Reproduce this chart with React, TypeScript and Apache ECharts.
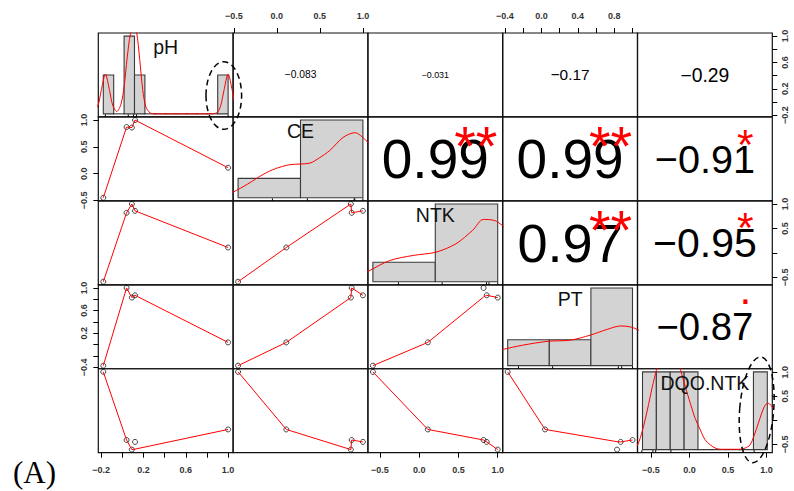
import React, { useEffect, useRef } from 'react';
import * as echarts from 'echarts';

// ---------- data ----------
const varNames = ['pH', 'CE', 'NTK', 'PT', 'DQO.NTK'];

// five observations (A..E) per variable
const pH = [-0.18, 0.04, 0.09, 0.12, 1.0];
const CE = [-0.45, 0.87, 0.86, 1.0, 0.11];
const NTK = [-0.59, 0.82, 1.0, 0.86, 0.11];
const PT = [-0.37, 1.0, 0.83, 0.87, 0.04];
const DQO_NTK = [1.01, -0.41, -0.61, -0.45, -0.19];

const fitCE_pH = [-0.45, 0.87, 0.86, 1.0, 0.11];
const fitNTK_pH = [-0.59, 0.82, 1.0, 0.86, 0.11];
const fitNTK_CE = [-0.59, 0.82, 1.0, 0.86, 0.11];
const fitPT_pH = [-0.37, 1.0, 0.83, 0.87, 0.04];
const fitPT_CE = [-0.37, 1.0, 0.83, 0.87, 0.04];
const fitPT_NTK = [-0.37, 0.84, 0.83, 0.87, 0.04];
const fitDQO_pH = [1.01, -0.41, -0.61, -0.6, -0.19];
const fitDQO_CE = [1.01, -0.41, -0.61, -0.45, -0.19];
const fitDQO_NTK = [1.01, -0.41, -0.61, -0.45, -0.19];
const fitDQO_PT = [1.01, -0.41, -0.445, -0.45, -0.19];

// histograms on the diagonal
const binStart = [-0.2, -1, -1, -0.5, -0.6];
const binWidth = [0.1, 1, 1, 0.5, 0.2];
const countsPH = [1, 0, 2, 1, 0, 0, 0, 0, 0, 0, 0, 1];
const countsCE = [1, 4];
const countsNTK = [1, 4];
const countsPT = [1, 1, 3];
const countsDQO = [1, 1, 1, 1, 0, 0, 0, 0, 1];

// density curves (x, density)
const densPH = [[-0.3, 0.1], [-0.25, 0.45], [-0.22, 1.2], [-0.18, 2.05], [-0.14, 1.2], [-0.11, 0.45], [-0.07, 0.12], [-0.03, 0.5], [0.0, 1.4], [0.03, 2.9], [0.06, 4.1], [0.09, 4.5], [0.12, 4.2], [0.15, 2.8], [0.18, 1.2], [0.21, 0.35], [0.25, 0.05], [0.3, 0.0], [0.85, 0.0], [0.9, 0.1], [0.93, 0.45], [0.96, 1.2], [1.0, 2.05], [1.04, 1.2], [1.07, 0.45], [1.1, 0.15]];
const densCE = [[-1.2, 0.03], [-1.08, 0.058], [-0.85, 0.14], [-0.6, 0.24], [-0.4, 0.3], [-0.17, 0.34], [0.15, 0.357], [0.3, 0.41], [0.47, 0.487], [0.68, 0.62], [0.87, 0.67], [1.05, 0.59], [1.2, 0.48]];
const densNTK = [[-1.2, 0.06], [-1.08, 0.105], [-0.73, 0.218], [-0.36, 0.27], [0.01, 0.304], [0.33, 0.39], [0.6, 0.53], [0.77, 0.641], [0.95, 0.63], [1.07, 0.58], [1.2, 0.5]];
const densPT = [[-0.65, 0.22], [-0.56, 0.25], [-0.32, 0.316], [-0.01, 0.377], [0.25, 0.393], [0.49, 0.47], [0.7, 0.562], [0.86, 0.613], [0.98, 0.597], [1.06, 0.557], [1.15, 0.5]];
const densDQO = [[-0.72, 0.02], [-0.67, 0.059], [-0.6, 0.25], [-0.53, 0.509], [-0.46, 0.8], [-0.4, 1.02], [-0.3, 1.35], [-0.22, 1.42], [-0.14, 1.3], [-0.05, 1.02], [0.02, 0.8], [0.09, 0.595], [0.16, 0.4], [0.235, 0.252], [0.3, 0.13], [0.38, 0.059], [0.45, 0.02], [0.52, 0.004], [0.81, 0.004], [0.88, 0.02], [0.95, 0.059], [1.01, 0.18], [1.07, 0.338], [1.12, 0.47], [1.17, 0.573], [1.215, 0.595], [1.28, 0.53], [1.33, 0.4]];

// correlations (upper panels) and significance stars
const corPH = [-0.083, -0.031, -0.17, -0.29];
const corCE = [0.99, 0.99, -0.91];
const corNTK = [0.97, -0.95];
const corPT = [-0.87];
const sigPH = ['', '', '', ''];
const sigCE = ['**', '**', '*'];
const sigNTK = ['**', '*'];
const sigPT = ['.'];

// axis ticks and labels
const ticksPH = [-0.2, 0, 0.2, 0.4, 0.6, 0.8, 1.0];
const ticksCE = [-0.5, 0, 0.5, 1.0];
const ticksNTK = [-0.5, 0, 0.5, 1.0];
const ticksPT = [-0.4, -0.2, 0, 0.2, 0.4, 0.6, 0.8, 1.0];
const ticksDQO = [-0.5, 0, 0.5, 1.0];
const labPHBottom = [-0.2, 0.2, 0.6, 1.0];
const labPHRight = [-0.2, 0.2, 0.6, 1.0];
const labCETop = [-0.5, 0, 0.5, 1.0];
const labCELeft = [-0.5, 0, 0.5, 1.0];
const labNTKBottom = [-0.5, 0, 0.5, 1.0];
const labNTKRight = [-0.5, 0.5, 1.0];
const labPTTop = [-0.4, 0, 0.4, 0.8];
const labPTLeft = [-0.4, 0.2, 0.6, 1.0];
const labDQOBottom = [-0.5, 0, 0.5, 1.0];
const labDQORight = [-0.5, 0.5, 1.0];

// ---------- layout ----------
const FONT = '"Liberation Sans", Arial, Helvetica, sans-serif';
const panelLeft = 98.3;
const panelTop = 33;
const cellW = 134.8;
const cellH = 83.94;
const L = (c: number) => panelLeft + c * cellW;
const T = (r: number) => panelTop + r * cellH;

const vals = [pH, CE, NTK, PT, DQO_NTK];
const counts = [countsPH, countsCE, countsNTK, countsPT, countsDQO];
const dens = [densPH, densCE, densNTK, densPT, densDQO];
const ticks = [ticksPH, ticksCE, ticksNTK, ticksPT, ticksDQO];
const bottomLabels: (number[] | null)[] = [labPHBottom, null, labNTKBottom, null, labDQOBottom];
const topLabels: (number[] | null)[] = [null, labCETop, null, labPTTop, null];
const leftLabels: (number[] | null)[] = [null, labCELeft, null, labPTLeft, null];
const rightLabels: (number[] | null)[] = [labPHRight, null, labNTKRight, null, labDQORight];
const fits: Record<string, number[]> = {
  '1-0': fitCE_pH, '2-0': fitNTK_pH, '2-1': fitNTK_CE, '3-0': fitPT_pH, '3-1': fitPT_CE,
  '3-2': fitPT_NTK, '4-0': fitDQO_pH, '4-1': fitDQO_CE, '4-2': fitDQO_NTK, '4-3': fitDQO_PT,
};
const corRows = [corPH, corCE, corNTK, corPT];
const sigRows = [sigPH, sigCE, sigNTK, sigPT];

function lim(a: number[]) {
  const mn = Math.min(...a), mx = Math.max(...a), d = mx - mn;
  return [mn - 0.04 * d, mx + 0.04 * d];
}
const minus = (v: number) => (v < 0 ? '\u2212' : '');
const fmtTick = (v: number) => minus(v) + Math.abs(v).toFixed(1);
const fmtCor = (r: number) => minus(r) + (Math.abs(r) < 0.1 ? Math.abs(r).toFixed(3) : Math.abs(r).toFixed(2));

let measureCtx: CanvasRenderingContext2D | null = null;
function emWidth(txt: string) {
  if (!measureCtx) measureCtx = document.createElement('canvas').getContext('2d');
  measureCtx!.font = `100px ${FONT}`;
  return measureCtx!.measureText(txt).width / 100;
}

const labelMargin: Record<string, number> = { bottom: 13, top: 13, left: 10, right: 8 };

function mkAxis(kind: 'x' | 'y', gridIndex: number, min: number, max: number, position: string, tk: number[] | null, labels: number[] | null | undefined) {
  const ax: any = {
    type: 'value', gridIndex, min, max, position, splitLine: { show: false },
    axisLine: { show: false, onZero: false },
  };
  if (!tk || !labels) {
    ax.show = false;
    return ax;
  }
  ax.show = true;
  ax.axisTick = { show: true, length: 5, inside: false, customValues: tk, lineStyle: { color: '#000', width: 1 } };
  ax.axisLabel = {
    show: true, customValues: labels, formatter: fmtTick, fontSize: 9, fontWeight: 'bold', color: '#333',
    fontFamily: FONT, margin: labelMargin[position], rotate: kind === 'y' ? 90 : 0,
  };
  return ax;
}

function buildOption() {
  const grids: any[] = [];
  const xAxes: any[] = [];
  const yAxes: any[] = [];
  const series: any[] = [];
  const graphics: any[] = [];
  const n = 5;

  for (let r = 0; r < n; r++) {
    for (let c = 0; c < n; c++) {
      const g = grids.length;
      grids.push({
        left: L(c), top: T(r), width: cellW, height: cellH, show: true,
        borderColor: '#111', borderWidth: 1.2, backgroundColor: 'transparent',
        containLabel: false, outerBoundsMode: 'none',
      });
      const xd = r === 0 && topLabels[c] ? { side: 'top', labels: topLabels[c] } : r === n - 1 && bottomLabels[c] ? { side: 'bottom', labels: bottomLabels[c] } : null;
      const yd = c === 0 && leftLabels[r] ? { side: 'left', labels: leftLabels[r] } : c === n - 1 && rightLabels[r] ? { side: 'right', labels: rightLabels[r] } : null;
      const [xlo, xhi] = lim(vals[c]);
      const [ylo, yhi] = lim(vals[r]);

      if (r === c) {
        const k = r;
        const w = binWidth[k];
        const st = binStart[k];
        const cn = counts[k];
        const nb = cn.length;
        const span = nb * w;
        const hx0 = st - 0.04 * span;
        const hx1 = st + span + 0.04 * span;
        const nObs = vals[k].length;
        const heights = cn.map((v) => v / (nObs * w));
        const maxH = Math.max(...heights);
        const hy0 = -0.04 * maxH;
        const hy1 = 1.04 * maxH;
        const hxi = xAxes.length;
        xAxes.push(mkAxis('x', g, hx0, hx1, 'top', null, null));
        const hyi = yAxes.length;
        yAxes.push(mkAxis('y', g, hy0, hy1, 'left', null, null));
        xAxes.push(mkAxis('x', g, xlo, xhi, 'bottom', xd ? ticks[c] : null, xd ? xd.labels : null));
        yAxes.push(mkAxis('y', g, ylo, yhi, 'right', yd ? ticks[r] : null, yd ? yd.labels : null));

        const barData = cn.map((v, i) => [st + i * w, st + (i + 1) * w, heights[i]]);
        series.push({
          type: 'custom', xAxisIndex: hxi, yAxisIndex: hyi, data: barData, clip: true, silent: true, z: 2,
          renderItem: (params: any, api: any) => {
            const p0 = api.coord([api.value(0), 0]);
            const p1 = api.coord([api.value(1), api.value(2)]);
            return {
              type: 'rect',
              shape: { x: p0[0], y: p1[1], width: p1[0] - p0[0], height: Math.max(p0[1] - p1[1], 0.01) },
              style: { fill: '#d3d3d3', stroke: '#3a3a3a', lineWidth: 1.1 },
            };
          },
        });
        series.push({
          type: 'custom', xAxisIndex: hxi, yAxisIndex: hyi, data: vals[k].map((v) => [v]), silent: true, z: 2,
          renderItem: (params: any, api: any) => {
            const p = api.coord([api.value(0), hy0]);
            return {
              type: 'line',
              shape: { x1: p[0], y1: p[1], x2: p[0], y2: p[1] - 0.03 * cellH },
              style: { stroke: '#000', lineWidth: 1 },
            };
          },
        });
        series.push({
          type: 'line', xAxisIndex: hxi, yAxisIndex: hyi, data: dens[k], symbol: 'none', showSymbol: false,
          smooth: 0.3, clip: true, silent: true, z: 3, lineStyle: { color: '#ff0000', width: 1 },
        });

        graphics.push({
          type: 'text', x: L(c) + 0.5 * cellW, y: T(r) + (1 - 0.833) * cellH, z: 100,
          style: { text: varNames[k], fontSize: 19.5, fontFamily: FONT, fill: '#111', align: 'center', verticalAlign: 'middle' },
        });
      } else {
        const xi = xAxes.length;
        xAxes.push(mkAxis('x', g, xlo, xhi, xd ? xd.side : 'bottom', xd ? ticks[c] : null, xd ? xd.labels : null));
        const yi = yAxes.length;
        yAxes.push(mkAxis('y', g, ylo, yhi, yd ? yd.side : 'left', yd ? ticks[r] : null, yd ? yd.labels : null));

        if (r > c) {
          const fit = fits[`${r}-${c}`];
          const pts = vals[c].map((x, i) => [x, vals[r][i]]);
          const fitPts = vals[c].map((x, i) => [x, fit[i]]).sort((a, b) => a[0] - b[0]);
          series.push({
            type: 'scatter', xAxisIndex: xi, yAxisIndex: yi, data: pts, symbol: 'circle', symbolSize: 5,
            silent: true, z: 2,
            itemStyle: { color: 'rgba(255,255,255,0)', borderColor: '#000', borderWidth: 0.9 },
          });
          series.push({
            type: 'line', xAxisIndex: xi, yAxisIndex: yi, data: fitPts, symbol: 'none', showSymbol: false,
            silent: true, z: 3, lineStyle: { color: '#ff0000', width: 1 },
          });
        } else {
          const rv = corRows[r][c - r - 1];
          const sig = sigRows[r][c - r - 1];
          const txt = fmtCor(rv);
          const base = (0.8 * cellW) / emWidth(txt);
          const fsNum = (base * (Math.abs(rv) + 0.3)) / 1.3;
          graphics.push({
            type: 'text', x: L(c) + 0.5 * cellW, y: T(r) + 0.5 * cellH, z: 100,
            style: { text: txt, fontSize: fsNum, fontFamily: FONT, fill: '#000', align: 'center', verticalAlign: 'middle' },
          });
          if (sig) {
            const sx = L(c) + 0.8 * cellW;
            const sy = T(r) + 0.2 * cellH;
            const yy = sig === '.' ? sy - 0.3 * base : sy + 0.23 * base;
            graphics.push({
              type: 'text', x: sx, y: yy, z: 101,
              style: { text: sig, fontSize: base, fontFamily: FONT, fill: '#ff0000', align: 'center', verticalAlign: 'middle' },
            });
          }
        }
      }
    }
  }

  // dashed annotation ellipses
  graphics.push({
    type: 'ellipse', z: 110,
    shape: { cx: L(0) + 0.931 * cellW, cy: T(0) + 0.745 * cellH, rx: 17.8, ry: 33.8 },
    style: { fill: 'none', stroke: '#000', lineWidth: 1.5, lineDash: [6, 4] },
  });
  graphics.push({
    type: 'ellipse', z: 110,
    x: L(4) + 0.884 * cellW, y: T(4) + 0.49 * cellH, rotation: -0.08,
    shape: { cx: 0, cy: 0, rx: 17, ry: 53 },
    style: { fill: 'none', stroke: '#000', lineWidth: 1.5, lineDash: [6, 4] },
  });
  graphics.push({
    type: 'text', x: 13, y: 472.5, z: 100,
    style: { text: '(A)', fontSize: 31, fontFamily: '"Liberation Serif", "Times New Roman", serif', fill: '#000', align: 'left', verticalAlign: 'middle' },
  });

  return {
    animation: false,
    backgroundColor: '#ffffff',
    grid: grids,
    xAxis: xAxes,
    yAxis: yAxes,
    series,
    graphic: { elements: graphics },
  };
}

export default function App() {
  const ref = useRef<HTMLDivElement>(null);
  useEffect(() => {
    if (!ref.current) return;
    const chart = echarts.init(ref.current, null, { renderer: 'svg' });
    chart.setOption(buildOption() as any);
    return () => chart.dispose();
  }, []);
  return <div ref={ref} style={{ position: 'fixed', left: 0, top: 0, width: 794, height: 491, background: '#fff' }} />;
}
